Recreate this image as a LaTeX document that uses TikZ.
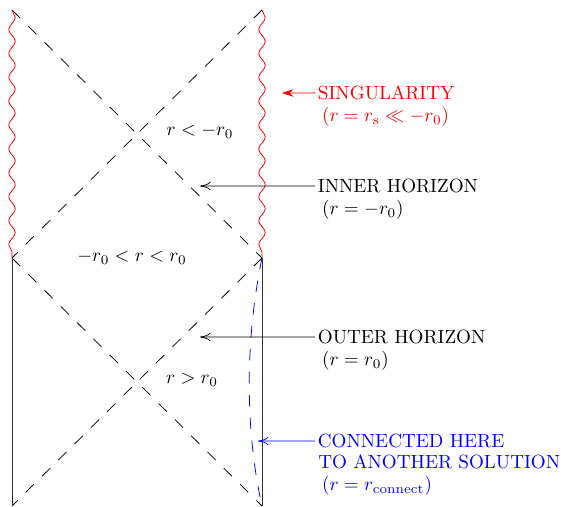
\documentclass[tikz,border=0pt]{standalone}
\usepackage{amsmath,amssymb}
\usetikzlibrary{arrows.meta, positioning, decorations.pathmorphing}
\tikzset{
  pdhor/.style   = {draw=black, dash pattern=on 6pt off 6pt},
  pdsing/.style  = {draw=red, decorate,
                    decoration={snake, amplitude=1.7pt, segment length=12.5pt}},
  pdedge/.style  = {draw=black!80},
  pdconn/.style  = {draw=blue, dash pattern=on 6pt off 6pt},
  pdlab/.style   = {inner sep=0pt, outer sep=1.5pt, anchor=base west},
  pdsub/.style   = {inner sep=0pt, anchor=base west},
  pdreg/.style   = {inner sep=0pt},
  pdarrow/.style = {-{To[length=5.5pt, width=4.5pt]}, draw=black},
}
\begin{document}
\begin{tikzpicture}[x=0.523pt, y=-0.523pt]
  \useasboundingbox (0,0) rectangle (561,506);
  % corners of the two squares
  \coordinate (tl) at (12,10);
  \coordinate (tr) at (262,10);
  \coordinate (ml) at (12,258);
  \coordinate (mr) at (262,258);
  \coordinate (bl) at (12,506);
  \coordinate (br) at (262,506);
  % horizons
  \draw[pdhor] (tl) -- (mr);
  \draw[pdhor] (tr) -- (ml);
  \draw[pdhor] (ml) -- (br);
  \draw[pdhor] (mr) -- (bl);
  % singularities and edges
  \draw[pdsing] (tl) -- (ml);
  \draw[pdsing] (tr) -- (mr);
  \draw[pdedge] (ml) -- (bl);
  \draw[pdedge] (mr) -- (br);
  \draw[pdconn] (mr) .. controls (245,340) and (245,430) .. (br);
  % regions
  \node[pdreg] (rin)  at (200,131) {$r < -r_0$};
  \node[pdreg] (rmid) at (132,257) {$-r_0 < r < r_0$};
  \node[pdreg] (rout) at (192,380) {$r > r_0$};
  % labels
  \node[pdlab, text=red] (sing) at (315,99.5) {SINGULARITY};
  \node[pdsub, text=red] (singeq) at ([xshift=3.5pt, yshift=-11.5pt]sing.base west)
    {$(r = r_{\mathrm{s}} \ll -r_0)$};
  \node[pdlab] (inner) at (315,192.5) {INNER HORIZON};
  \node[pdsub] (innereq) at ([xshift=3.5pt, yshift=-11.5pt]inner.base west)
    {$(r = -r_0)$};
  \node[pdlab] (outer) at (315,343.5) {OUTER HORIZON};
  \node[pdsub] (outereq) at ([xshift=3.5pt, yshift=-11.5pt]outer.base west)
    {$(r = r_0)$};
  \node[pdlab, text=blue] (conn) at (315,447.5) {CONNECTED HERE};
  \node[pdsub, text=blue] (conn2) at ([xshift=1.5pt, yshift=-11.2pt]conn.base west)
    {TO ANOTHER SOLUTION};
  \node[pdsub, text=blue] (conneq) at ([xshift=2pt, yshift=-11.2pt]conn2.base west)
    {$(r = r_{\mathrm{connect}})$};
  % pointers
  \coordinate (singtip)  at (282,93);
  \coordinate (innertip) at (200,186);
  \coordinate (outertip) at (200,337);
  \coordinate (conntip)  at (258,441);
  \draw[pdarrow, draw=red, -{Stealth[length=6pt, width=4pt]}] (sing.west) -- (singtip);
  \draw[pdarrow] (inner.west) -- (innertip);
  \draw[pdarrow] (outer.west) -- (outertip);
  \draw[pdarrow, draw=blue] (conn.west) -- (conntip);
\end{tikzpicture}
\end{document}
